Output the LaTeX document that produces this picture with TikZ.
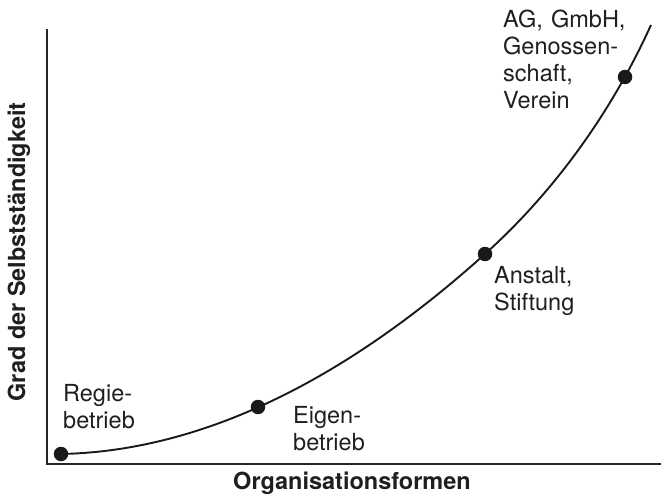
\documentclass[tikz,border=0pt]{standalone}
\usepackage{fontspec}
\setmainfont{TeX Gyre Heros}
\begin{document}
\begin{tikzpicture}[x=1pt,y=-1pt,
  axis/.style={line width=2.2pt, line cap=rect},
  curve/.style={line width=1.9pt},
  dot/.style={circle, fill=black!90, inner sep=0pt, minimum size=14.5pt},
  lbl/.style={font=\fontsize{23.5}{27}\selectfont, align=left, inner sep=0pt, anchor=base west, text=black!88},
  axlbl/.style={font=\fontsize{23.5}{28}\bfseries\selectfont, inner sep=0pt, anchor=base, text=black!88}]
\useasboundingbox (0,0) rectangle (664,495);
\coordinate (ytop) at (47,30);
\coordinate (origin) at (47,464);
\coordinate (xend) at (660,464);
\draw[axis, black!85] (ytop) -- (origin) -- (xend);
\coordinate (cend) at (651,25);
\node[dot] (d1) at (61,454) {};
\node[dot] (d2) at (258,407) {};
\node[dot] (d3) at (485,254) {};
\node[dot] (d4) at (625,77) {};
\draw[curve, black!90] (d1.center) .. controls (211,451) and (355,371) .. (d3.center)
  .. controls (545,200) and (606,124) .. (cend);
\node[lbl] (l1) at (63,428) {Regie-\\betrieb};
\node[lbl] (l2) at (293,450) {Eigen-\\betrieb};
\node[lbl] (l3) at (494,310) {Anstalt,\\Stiftung};
\node[lbl] (l4) at (503,108) {AG,\hspace{0.35em}GmbH,\\Genossen-\\schaft,\\Verein};
\node[axlbl] (xl) at (352,489) {Organisationsformen};
\node[axlbl, rotate=90] (yl) at (25,252) {Grad der Selbstständigkeit};
\end{tikzpicture}
\end{document}
